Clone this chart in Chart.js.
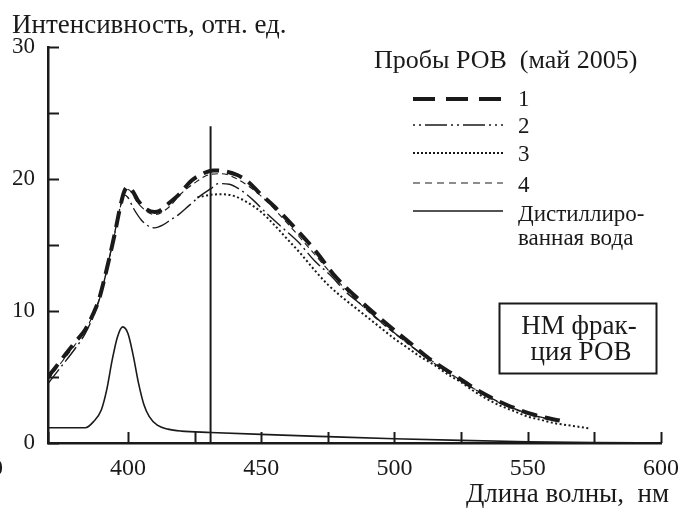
<!DOCTYPE html>
<html>
<head>
<meta charset="utf-8">
<script src="https://cdn.jsdelivr.net/npm/chart.js@4"></script>
<style>
  body { margin: 0; background: #fff; }
  canvas { display: block; }
</style>
</head>
<body>
<canvas id="spectra" width="690" height="511"></canvas>
<script>
// ---- data ----
const yTitle = "Интенсивность, отн. ед.";
const xTitle = "Длина волны,  нм";
const legendTitle = "Пробы РОВ  (май 2005)";
const seriesNames = ["1", "2", "3", "4", "Дистиллиро-|ванная вода"];
const boxText = ["НМ фрак-", "ция РОВ"];

const xTickLabels = [350, 400, 450, 500, 550, 600];
const yTickLabels = [0, 10, 20, 30];

// sample 1 (thick dashed)
const wl1 = [370, 375, 380, 384, 387, 389, 391, 393, 395, 397, 398.5, 400, 402, 404, 407, 410, 412, 415, 419, 424, 428, 432, 436, 441, 445, 449, 456, 464, 471, 477, 487, 496, 504.5, 513, 522, 532, 542, 553, 562];
const s1  = [5.0, 6.3, 7.6, 8.6, 9.8, 10.8, 12.3, 14.0, 15.8, 17.8, 19.0, 19.4, 19.0, 18.3, 17.7, 17.5, 17.6, 18.1, 18.8, 19.9, 20.4, 20.65, 20.6, 20.3, 19.8, 19.0, 17.7, 16.0, 14.4, 12.8, 10.8, 9.2, 7.8, 6.4, 5.2, 3.9, 2.9, 2.1, 1.7];

// sample 2 (dash-dot)
const wl2 = [370, 375, 380, 384, 387, 389, 391, 393, 395, 397, 398.5, 400, 402, 405, 408, 410, 413, 416, 419, 423, 427, 431, 434, 438, 442, 447, 452, 458, 464, 470, 476, 482, 488, 496, 504, 513, 522, 532, 542, 553, 562];
const s2  = [4.5, 5.8, 7.1, 8.3, 9.6, 10.7, 12.2, 14.0, 15.9, 17.8, 18.8, 18.6, 17.8, 16.9, 16.4, 16.3, 16.5, 16.9, 17.3, 18.0, 18.7, 19.25, 19.65, 19.6, 19.2, 18.4, 17.4, 16.3, 15.2, 13.8, 12.7, 11.4, 10.4, 9.0, 7.7, 6.3, 5.1, 3.85, 2.85, 2.05, 1.65];

// sample 3 (dotted)
const wl3 = [426, 431, 435, 440, 445, 450, 455, 460, 465, 470, 475, 480, 485, 490, 495, 500, 505, 510, 515, 520, 525, 530, 535, 540, 545, 550, 555, 560, 565, 570, 573];
const s3  = [18.6, 18.8, 18.85, 18.7, 18.2, 17.5, 16.5, 15.4, 14.3, 13.1, 12.0, 11.1, 10.3, 9.5, 8.7, 7.9, 7.2, 6.5, 5.9, 5.2, 4.6, 3.9, 3.3, 2.8, 2.4, 2.0, 1.75, 1.5, 1.35, 1.2, 1.1];

// sample 4 (thin dashed, mostly under sample 1)
const wl4 = [370, 375, 380, 385, 390, 395, 398.5, 400, 404, 410, 415, 420, 425, 430, 435, 440, 450, 460, 470, 480, 490, 500, 510, 520, 530, 540, 550, 560];
const s4  = [4.8, 6.1, 7.4, 8.9, 11.4, 15.8, 18.9, 19.2, 18.1, 17.3, 17.8, 18.9, 19.7, 20.3, 20.4, 20.1, 18.7, 16.6, 14.3, 12.0, 10.0, 8.3, 6.8, 5.4, 4.1, 3.0, 2.2, 1.7];

// distilled water
const wlW = [370, 384, 387, 390, 392, 394, 396, 398, 400, 402, 404, 406, 408, 411, 415, 420, 431, 450, 475, 500, 525, 550, 575, 600];
const sW  = [1.15, 1.15, 1.6, 2.5, 4.0, 6.2, 8.0, 8.8, 8.3, 6.6, 4.5, 2.9, 2.0, 1.35, 1.05, 0.9, 0.8, 0.65, 0.48, 0.32, 0.2, 0.1, 0.03, 0.0];

// excitation line
const wlLine = [431, 431];
const sLine  = [0, 24];

const pts = (xs, ys) => xs.map((x, i) => ({ x: x, y: ys[i] }));

const INK = "#1a1a1a";
const FONT = "'Liberation Serif', 'Times New Roman', serif";

/* -------------------------------
   DECORATIONS (ticks, titles, legend, box)
--------------------------------*/
const decorations = {
  id: "decorations",
  afterDraw(chart) {
    const ctx = chart.ctx;
    const xs = chart.scales.x;
    const ys = chart.scales.y;
    const area = chart.chartArea;

    ctx.save();
    ctx.strokeStyle = INK;
    ctx.fillStyle = INK;
    ctx.lineWidth = 2;

    // inward tick marks
    xs.ticks.forEach(t => {
      const px = Math.round(xs.getPixelForValue(t.value)) + 0.5;
      ctx.beginPath();
      ctx.moveTo(px, area.bottom);
      ctx.lineTo(px, area.bottom - 11);
      ctx.stroke();
    });
    ys.ticks.forEach(t => {
      const py = Math.round(ys.getPixelForValue(t.value)) + 0.5;
      ctx.beginPath();
      ctx.moveTo(area.left, py);
      ctx.lineTo(area.left + 11, py);
      ctx.stroke();
    });

    // cropped label on the far left edge
    ctx.font = "24px " + FONT;
    ctx.textAlign = "center";
    ctx.textBaseline = "alphabetic";
    ctx.fillText(String(xTickLabels[0]), -15, 475);

    // axis titles
    ctx.font = "27px " + FONT;
    ctx.textAlign = "left";
    ctx.fillText(yTitle, 12, 33);
    ctx.textAlign = "right";
    ctx.fillText(xTitle, 669, 502);

    // legend
    ctx.font = "26px " + FONT;
    ctx.textAlign = "left";
    ctx.fillText(legendTitle, 374, 68);
    const lineRows = [99, 125, 153, 183, 211];
    const textRows = [106, 133, 161, 192, 221];
    const legendDash = [[22, 11], [2, 4, 2, 4, 22, 4], [2, 2], [7, 5], []];
    chart.data.datasets.slice(0, 5).forEach((ds, i) => {
      ctx.save();
      ctx.lineWidth = ds.borderWidth;
      ctx.setLineDash(legendDash[i]);
      ctx.beginPath();
      ctx.moveTo(413, lineRows[i]);
      ctx.lineTo(503, lineRows[i]);
      ctx.stroke();
      ctx.restore();
    });
    ctx.font = "23px " + FONT;
    seriesNames.forEach((name, i) => {
      name.split("|").forEach((part, j) => {
        ctx.fillText(part, 518, textRows[i] + j * 24);
      });
    });

    // annotation box
    ctx.lineWidth = 2;
    ctx.strokeRect(499.5, 303.5, 157, 70);
    ctx.font = "27px " + FONT;
    ctx.textAlign = "center";
    ctx.fillText(boxText[0], 579, 334);
    ctx.fillText(boxText[1], 581, 360);

    ctx.restore();
  }
};

/* -------------------------------
   CHART
--------------------------------*/
new Chart(document.getElementById("spectra"), {
  type: "line",
  data: {
    datasets: [
      { data: pts(wl1, s1), borderColor: INK, borderWidth: 4, borderDash: [16, 8] },
      { data: pts(wl2, s2), borderColor: INK, borderWidth: 1.4, borderDash: [18, 4, 2, 4] },
      { data: pts(wl3, s3), borderColor: INK, borderWidth: 2, borderDash: [2, 2.5] },
      { data: pts(wl4, s4), borderColor: INK, borderWidth: 1.1, borderDash: [6, 4] },
      { data: pts(wlW, sW), borderColor: INK, borderWidth: 1.6 },
      { data: pts(wlLine, sLine), borderColor: INK, borderWidth: 2, cubicInterpolationMode: "default", tension: 0 }
    ]
  },
  options: {
    responsive: false,
    animation: false,
    devicePixelRatio: 1,
    elements: { point: { radius: 0 }, line: { fill: false, cubicInterpolationMode: "monotone" } },
    layout: { padding: { top: 47, right: 23, left: 0, bottom: 0 } },
    plugins: { legend: { display: false }, tooltip: { enabled: false } },
    scales: {
      x: {
        type: "linear",
        min: 370,
        max: 600,
        afterFit(scale) { scale.height = 68; },
        grid: { display: false, drawTicks: false },
        border: { display: true, color: INK, width: 2.5 },
        ticks: {
          stepSize: 25,
          padding: 11,
          color: INK,
          font: { family: FONT, size: 24 },
          maxRotation: 0,
          autoSkip: false,
          callback: v => (xTickLabels.includes(v) ? String(v) : "")
        }
      },
      y: {
        min: 0,
        max: 30,
        afterFit(scale) { scale.width = 48; },
        grid: { display: false, drawTicks: false },
        border: { display: true, color: INK, width: 2.5 },
        ticks: {
          stepSize: 5,
          padding: 13,
          color: INK,
          font: { family: FONT, size: 23 },
          callback: v => (yTickLabels.includes(v) ? String(v) : "")
        }
      }
    }
  },
  plugins: [decorations]
});
</script>
</body>
</html>
